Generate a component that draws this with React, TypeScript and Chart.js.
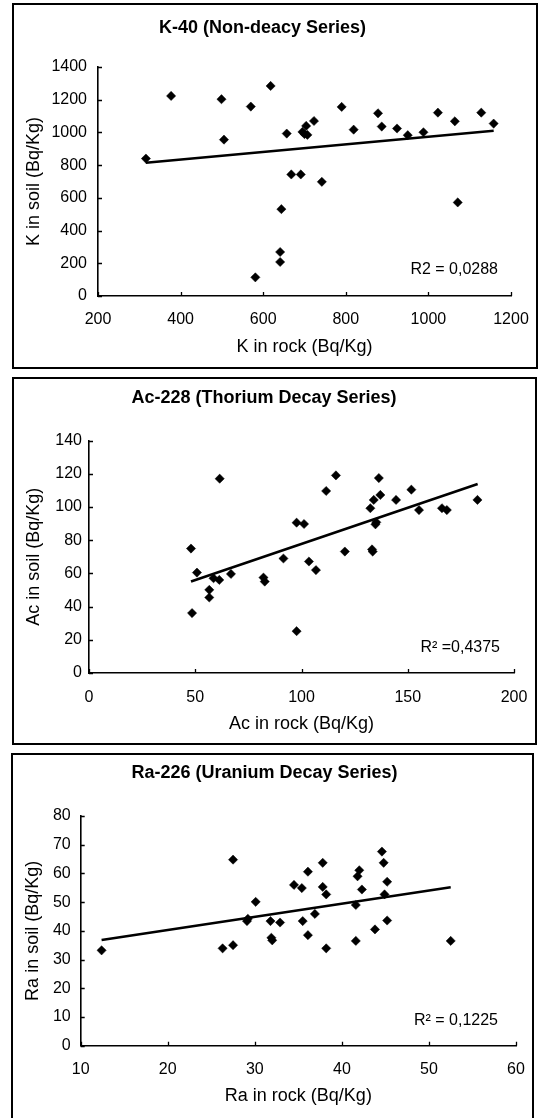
import React, { useEffect, useRef } from 'react';
import { Chart, registerables } from 'chart.js';

Chart.register(...registerables);

// ---------- Data ----------
const kRock = [316, 377, 499, 505, 570, 581, 618, 641, 641, 644, 657, 668, 691, 695, 700, 704, 707, 723, 742, 790, 819, 878, 887, 924, 950, 988, 1023, 1064, 1071, 1128, 1158];
const kSoil = [840, 1223, 1203, 956, 1158, 114, 1284, 269, 208, 531, 993, 743, 743, 1003, 990, 1040, 985, 1070, 698, 1156, 1017, 1117, 1036, 1024, 983, 1001, 1121, 1068, 572, 1121, 1054];
const kTrendX = [316, 1158];
const kTrendY = [815, 1010];

const acRock = [48.0, 48.5, 50.8, 56.6, 56.6, 58.6, 61.3, 61.5, 66.8, 82.1, 82.7, 91.5, 97.7, 97.7, 101.2, 103.5, 106.8, 111.6, 116.2, 120.4, 132.4, 133.5, 133.2, 134.0, 134.8, 135.2, 136.4, 137.1, 144.5, 151.7, 155.3, 166.1, 168.4, 182.8];
const acSoil = [75.0, 36.1, 60.5, 50.1, 45.5, 57.1, 56.1, 117.1, 59.7, 57.5, 55.1, 69.0, 25.2, 90.6, 89.8, 67.2, 62.0, 109.7, 119.1, 73.2, 99.3, 73.2, 74.5, 104.3, 89.6, 90.8, 117.5, 107.3, 104.3, 110.5, 98.2, 99.3, 98.2, 104.3];
const acTrendX = [48, 182.9];
const acTrendY = [55.1, 113.9];

const raRock = [12.4, 26.3, 27.5, 27.5, 29.1, 29.2, 30.1, 31.8, 31.9, 32.0, 32.9, 34.5, 35.4, 35.5, 36.1, 36.1, 36.9, 37.8, 37.8, 38.2, 38.2, 41.6, 41.6, 41.8, 42.0, 42.3, 43.8, 44.6, 44.8, 44.9, 45.2, 45.2, 52.5];
const raSoil = [33.2, 33.9, 35.0, 64.8, 43.4, 44.2, 50.1, 43.4, 37.6, 36.7, 42.9, 56.0, 54.9, 43.4, 60.6, 38.5, 45.9, 63.7, 55.3, 52.7, 33.9, 49.0, 36.5, 59.0, 61.1, 54.4, 40.5, 67.6, 63.7, 52.7, 57.1, 43.6, 36.5];
const raTrendX = [12.4, 52.5];
const raTrendY = [36.8, 55.2];

const titles = ['K-40 (Non-deacy Series)', 'Ac-228 (Thorium Decay Series)', 'Ra-226 (Uranium Decay Series)'];
const xTitles = ['K in rock (Bq/Kg)', 'Ac in rock (Bq/Kg)', 'Ra in rock (Bq/Kg)'];
const yTitles = ['K in soil (Bq/Kg)', 'Ac in soil (Bq/Kg)', 'Ra in soil (Bq/Kg)'];
const r2Labels = ['R2 = 0,0288', 'R² =0,4375', 'R² = 0,1225'];
const xRanges = [[200, 1200, 200], [0, 200, 50], [10, 60, 10]];
const yRanges = [[0, 1400, 200], [0, 140, 20], [0, 80, 10]];

const FONT = "'Liberation Sans', Arial, sans-serif";

type PanelLayout = {
  box: [number, number, number, number];
  titlePad: [number, number];
  yWidth: number;
  xHeight: number;
  padRight: number;
  xTickPad: number;
  yTickPad: number;
  xTitlePad: number;
  yTitlePad: number;
  r2Off: [number, number];
};

const layouts: PanelLayout[] = [
  { box: [12, 3, 526, 366], titlePad: [12.2, 28.2], yWidth: 84, xHeight: 71, padRight: 25, xTickPad: 14.4, yTickPad: 11, xTitlePad: 9.2, yTitlePad: 9.2, r2Off: [13, 26] },
  { box: [12, 377, 525, 368], titlePad: [8.2, 31.9], yWidth: 75, xHeight: 70, padRight: 21, xTickPad: 15.4, yTickPad: 7, xTitlePad: 8.2, yTitlePad: 9.2, r2Off: [14, 25] },
  { box: [11, 753, 523, 368], titlePad: [7.2, 32.2], yWidth: 67.7, xHeight: 73.3, padRight: 16, xTickPad: 14.7, yTickPad: 10, xTitlePad: 12.5, yTitlePad: 9.2, r2Off: [18, 25] },
];

const seriesX = [kRock, acRock, raRock];
const seriesY = [kSoil, acSoil, raSoil];
const trendX = [kTrendX, acTrendX, raTrendX];
const trendY = [kTrendY, acTrendY, raTrendY];

function Panel({ idx }: { idx: number }) {
  const ref = useRef<HTMLCanvasElement | null>(null);
  const L = layouts[idx];
  const [bl, bt, bw, bh] = L.box;
  const cw = bw - 4;
  const ch = bh - 4;

  useEffect(() => {
    if (!ref.current) return;
    const pts = seriesX[idx].map((x, i) => ({ x, y: seriesY[idx][i] }));
    const trend = trendX[idx].map((x, i) => ({ x, y: trendY[idx][i] }));

    const insideTicks = {
      id: 'insideTicks',
      afterDraw(chart: any) {
        const ctx = chart.ctx;
        const a = chart.chartArea;
        const xs = chart.scales.x;
        const ys = chart.scales.y;
        ctx.save();
        ctx.strokeStyle = '#000';
        ctx.lineWidth = 1.3;
        ctx.beginPath();
        xs.ticks.forEach((t: any) => {
          const px = Math.round(xs.getPixelForValue(t.value)) + 0.5;
          ctx.moveTo(px, a.bottom);
          ctx.lineTo(px, a.bottom - 4);
        });
        ys.ticks.forEach((t: any) => {
          const py = Math.round(ys.getPixelForValue(t.value)) + 0.5;
          ctx.moveTo(a.left, py);
          ctx.lineTo(a.left + 4, py);
        });
        ctx.stroke();
        ctx.fillStyle = '#000';
        ctx.font = `16px ${FONT}`;
        ctx.textAlign = 'right';
        ctx.textBaseline = 'middle';
        ctx.fillText(r2Labels[idx], a.right - L.r2Off[0], a.bottom - L.r2Off[1]);
        ctx.restore();
      },
    };

    const plain = (v: any) => String(v);

    const chart = new Chart(ref.current, {
      type: 'scatter',
      data: {
        datasets: [
          {
            data: pts,
            pointStyle: 'rectRot',
            pointRadius: 4.6,
            backgroundColor: '#000',
            borderColor: '#000',
            borderWidth: 0.5,
            showLine: false,
          },
          {
            data: trend,
            showLine: true,
            pointRadius: 0,
            borderColor: '#000',
            borderWidth: 2.6,
            fill: false,
          },
        ],
      },
      options: {
        responsive: false,
        animation: false,
        layout: { padding: { left: 0, top: 0, right: L.padRight, bottom: 0 } },
        plugins: {
          legend: { display: false },
          tooltip: { enabled: false },
          title: {
            display: true,
            text: titles[idx],
            color: '#000',
            font: { family: FONT, size: 18, weight: 'bold', lineHeight: 1.2 },
            padding: { top: L.titlePad[0], bottom: L.titlePad[1] },
          },
        },
        scales: {
          x: {
            type: 'linear',
            min: xRanges[idx][0],
            max: xRanges[idx][1],
            ticks: { stepSize: xRanges[idx][2], padding: L.xTickPad, color: '#000', font: { family: FONT, size: 16, lineHeight: 1.2 }, maxRotation: 0, callback: plain },
            grid: { display: false, drawTicks: false },
            border: { display: true, color: '#000', width: 1.6 },
            title: { display: true, text: xTitles[idx], color: '#000', font: { family: FONT, size: 18, lineHeight: 1.2 }, padding: { top: 0, bottom: L.xTitlePad } },
            afterFit: (s: any) => { s.height = L.xHeight; s.paddingLeft = 0; s.paddingRight = 0; },
          },
          y: {
            type: 'linear',
            min: yRanges[idx][0],
            max: yRanges[idx][1],
            ticks: { stepSize: yRanges[idx][2], padding: L.yTickPad, color: '#000', font: { family: FONT, size: 16, lineHeight: 1.2 }, callback: plain },
            grid: { display: false, drawTicks: false },
            border: { display: true, color: '#000', width: 1.6 },
            title: { display: true, text: yTitles[idx], color: '#000', font: { family: FONT, size: 18, lineHeight: 1.2 }, padding: { top: L.yTitlePad, bottom: 0 } },
            afterFit: (s: any) => { s.width = L.yWidth; s.paddingTop = 0; s.paddingBottom = 0; },
          },
        },
      },
      plugins: [insideTicks],
    } as any);
    return () => chart.destroy();
  }, [idx]);

  return (
    <div
      style={{
        position: 'absolute',
        left: bl,
        top: bt,
        width: bw,
        height: bh,
        border: '2px solid #000',
        boxSizing: 'border-box',
        background: '#fff',
      }}
    >
      <canvas ref={ref} width={cw} height={ch} style={{ position: 'absolute', left: 0, top: 0, width: cw, height: ch }} />
    </div>
  );
}

export default function App() {
  return (
    <div>
      <Panel idx={0} />
      <Panel idx={1} />
      <Panel idx={2} />
    </div>
  );
}
